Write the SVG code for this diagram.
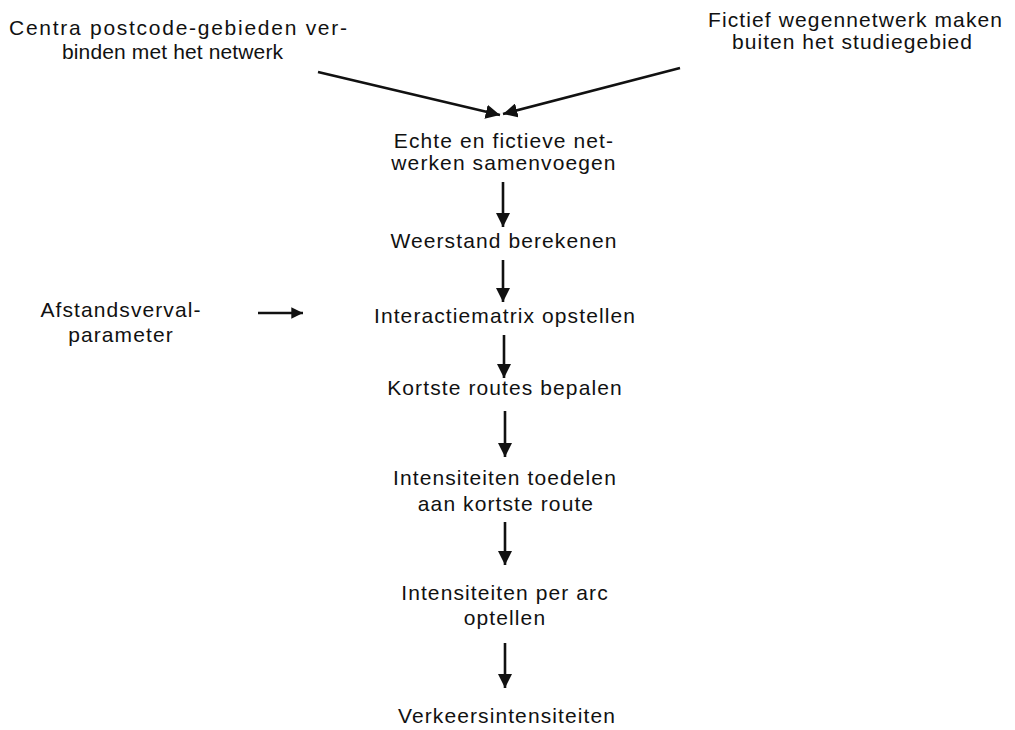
<svg xmlns="http://www.w3.org/2000/svg" width="1015" height="730" viewBox="0 0 1015 730">
<style>
text{font-family:"Liberation Sans",Arial,sans-serif;font-size:21px;fill:#111;text-anchor:middle;letter-spacing:1.1px}
.l{text-anchor:start;letter-spacing:0}
.c{stroke:#111;stroke-width:2.6;fill:none}
</style>
<defs>
<marker id="ah" viewBox="0 0 10 10" refX="10" refY="5" markerWidth="5.5" markerHeight="5.5" markerUnits="strokeWidth" orient="auto">
<path d="M0,0 L10,5 L0,10 z" fill="#111"/>
</marker>
<marker id="ahs" viewBox="0 0 10 10" refX="10" refY="5" markerWidth="4.5" markerHeight="4.5" markerUnits="strokeWidth" orient="auto">
<path d="M0,0 L10,5 L0,10 z" fill="#111"/>
</marker>
</defs>
<rect width="1015" height="730" fill="#fff"/>
<g id="n1"><text class="l" x="9" y="35" textLength="338" lengthAdjust="spacing">Centra postcode-gebieden ver-</text><text class="l" x="62" y="59" textLength="221" lengthAdjust="spacing">binden met het netwerk</text></g>
<g id="n2"><text class="l" x="708" y="27" textLength="294" lengthAdjust="spacing">Fictief wegennetwerk maken</text><text class="l" x="732" y="49" textLength="240" lengthAdjust="spacing">buiten het studiegebied</text></g>
<g id="n3"><text x="504" y="148">Echte en fictieve net-</text><text x="504" y="170">werken samenvoegen</text></g>
<g id="n4"><text x="504" y="248">Weerstand berekenen</text></g>
<g id="n5"><text x="505" y="323">Interactiematrix opstellen</text></g>
<g id="n6"><text x="121" y="317">Afstandsverval-</text><text x="121" y="342">parameter</text></g>
<g id="n7"><text x="505" y="395">Kortste routes bepalen</text></g>
<g id="n8"><text x="505" y="485">Intensiteiten toedelen</text><text x="506" y="511">aan kortste route</text></g>
<g id="n9"><text x="505" y="600">Intensiteiten per arc</text><text x="505" y="625">optellen</text></g>
<g id="n10"><text x="507" y="723">Verkeersintensiteiten</text></g>
<g id="connectors">
<line class="c" x1="318" y1="72" x2="500" y2="115" marker-end="url(#ah)"/>
<line class="c" x1="680" y1="68" x2="503" y2="114" marker-end="url(#ah)"/>
<line class="c" x1="503" y1="182" x2="503" y2="227" marker-end="url(#ah)"/>
<line class="c" x1="503" y1="260" x2="503" y2="302" marker-end="url(#ah)"/>
<line class="c" x1="504" y1="335" x2="504" y2="378" marker-end="url(#ah)"/>
<line class="c" x1="505" y1="411" x2="505" y2="457" marker-end="url(#ah)"/>
<line class="c" x1="505" y1="522" x2="505" y2="565" marker-end="url(#ah)"/>
<line class="c" x1="505" y1="643" x2="505" y2="688" marker-end="url(#ah)"/>
<line class="c" x1="258" y1="313" x2="303" y2="313" stroke-width="2" marker-end="url(#ahs)"/>
</g>
</svg>
